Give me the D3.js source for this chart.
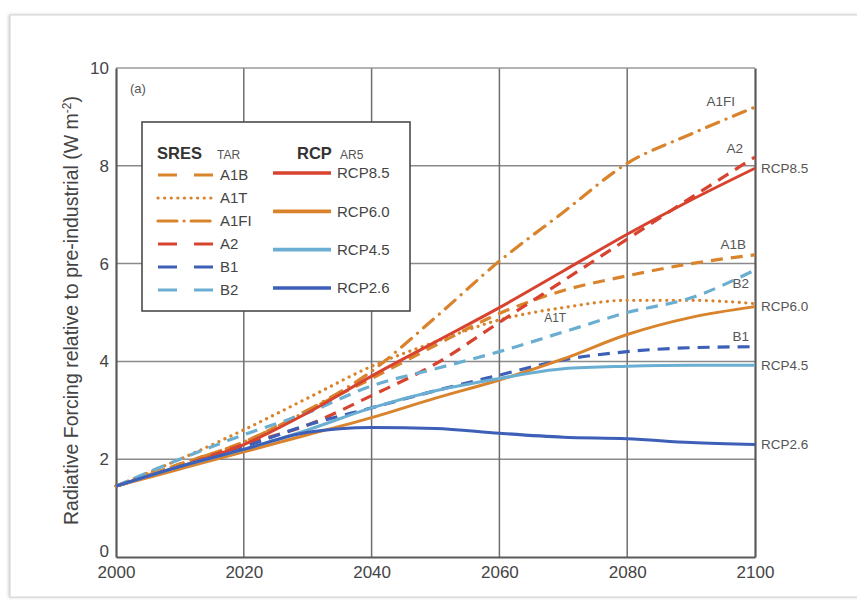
<!DOCTYPE html>
<html>
<head>
<meta charset="utf-8">
<script src="https://cdn.jsdelivr.net/npm/d3@7"></script>
<style>
  body { margin: 0; background: #fff; }
  svg { display: block; font-family: "Liberation Sans", Arial, sans-serif; }
</style>
</head>
<body>
<div id="chart"></div>
<script>
// years sampled every decade
const years = [2000, 2010, 2020, 2030, 2040, 2050, 2060, 2070, 2080, 2090, 2100];

// RCP (AR5), W m-2
const rcp85 = [1.45, 1.85, 2.3, 2.95, 3.7, 4.4, 5.1, 5.85, 6.6, 7.3, 7.95];
const rcp60 = [1.45, 1.8, 2.15, 2.5, 2.85, 3.25, 3.62, 4.05, 4.55, 4.9, 5.12];
const rcp45 = [1.45, 1.85, 2.2, 2.6, 3.05, 3.4, 3.65, 3.85, 3.9, 3.92, 3.92];
const rcp26 = [1.45, 1.85, 2.2, 2.55, 2.65, 2.63, 2.53, 2.45, 2.42, 2.34, 2.3];

// SRES (TAR), W m-2
const a1b = [1.45, 1.9, 2.35, 3.0, 3.65, 4.33, 4.98, 5.45, 5.75, 6.0, 6.18];
const a1t = [1.45, 2.0, 2.6, 3.25, 3.9, 4.4, 4.85, 5.1, 5.25, 5.25, 5.18];
const a1fi = [1.45, 1.9, 2.35, 3.0, 3.8, 4.9, 6.05, 7.05, 8.05, 8.65, 9.2];
const a2 = [1.45, 1.85, 2.3, 2.7, 3.3, 3.95, 4.8, 5.65, 6.5, 7.35, 8.18];
const b1 = [1.45, 1.85, 2.25, 2.7, 3.05, 3.4, 3.72, 4.03, 4.2, 4.28, 4.3];
const b2 = [1.45, 2.0, 2.5, 2.95, 3.5, 3.85, 4.2, 4.6, 5.0, 5.3, 5.87];

const xTicks = [2000, 2020, 2040, 2060, 2080, 2100];
const yTicks = [0, 2, 4, 6, 8, 10];

const RED = "#d8432f", ORANGE = "#d9832c", LBLUE = "#6aaed2", DBLUE = "#3d5fb8";

const sres = [
  { name: "A1B", values: a1b, color: ORANGE, dash: "12,8", legDash: "19,17", cap: "butt" },
  { name: "A1T", values: a1t, color: ORANGE, dash: "0.1,6.5", legDash: "0.1,6.5", cap: "round" },
  { name: "A1FI", values: a1fi, color: ORANGE, dash: "13,8,0.1,8", legDash: "19,7,0.1,7", cap: "round" },
  { name: "A2", values: a2, color: RED, dash: "12,8", legDash: "19,17", cap: "butt" },
  { name: "B1", values: b1, color: DBLUE, dash: "12,8", legDash: "19,17", cap: "butt" },
  { name: "B2", values: b2, color: LBLUE, dash: "12,8", legDash: "19,17", cap: "butt" }
];
const rcp = [
  { name: "RCP8.5", values: rcp85, color: RED },
  { name: "RCP6.0", values: rcp60, color: ORANGE },
  { name: "RCP4.5", values: rcp45, color: LBLUE },
  { name: "RCP2.6", values: rcp26, color: DBLUE }
];

const W = 857, H = 600;
const margin = { top: 68, right: 102, bottom: 43, left: 116 };
const w = W - margin.left - margin.right;
const h = H - margin.top - margin.bottom;

const svg = d3.select("#chart").append("svg").attr("width", W).attr("height", H);

// card frame with soft shadow
const defs = svg.append("defs");
const f = defs.append("filter").attr("id", "sh").attr("x", "-5%").attr("y", "-5%").attr("width", "110%").attr("height", "110%");
f.append("feDropShadow").attr("dx", -1).attr("dy", 0).attr("stdDeviation", 1.5).attr("flood-color", "#999").attr("flood-opacity", 0.5);
svg.append("rect").attr("x", 10).attr("y", 15).attr("width", W + 10).attr("height", 582)
  .attr("fill", "#fff").attr("stroke", "#d4d4d4").attr("stroke-width", 1).attr("filter", "url(#sh)");

const g = svg.append("g").attr("transform", `translate(${margin.left},${margin.top})`);

const x = d3.scaleLinear().domain([2000, 2100]).range([0, w]);
const y = d3.scaleLinear().domain([0, 10]).range([h, 0]);

// grid
g.append("g").selectAll("line").data(yTicks.slice(1, -1)).join("line")
  .attr("x1", 0).attr("x2", w).attr("y1", d => y(d)).attr("y2", d => y(d))
  .attr("stroke", "#8a8a8a").attr("stroke-width", 1.5);
g.append("g").selectAll("line").data(xTicks.slice(1, -1)).join("line")
  .attr("y1", 0).attr("y2", h).attr("x1", d => x(d)).attr("x2", d => x(d))
  .attr("stroke", "#6e6e6e").attr("stroke-width", 1.5);
g.append("line").attr("x1", 0).attr("x2", w).attr("y1", 0).attr("y2", 0)
  .attr("stroke", "#9a9a9a").attr("stroke-width", 1.5);

// axes
const xAxis = g.append("g").attr("transform", `translate(0,${h})`)
  .call(d3.axisBottom(x).tickValues(xTicks).tickFormat(d3.format("d")).tickSize(0).tickPadding(9));
const yAxis = g.append("g")
  .call(d3.axisLeft(y).tickValues(yTicks).tickSize(0).tickPadding(7));
const yAxisR = g.append("g").attr("transform", `translate(${w},0)`)
  .call(d3.axisRight(y).tickValues([]).tickSize(0));
[xAxis, yAxis, yAxisR].forEach(a => {
  a.select(".domain").attr("stroke", "#5a5a5a").attr("stroke-width", 2.2);
  a.selectAll("text").attr("fill", "#444").style("font-size", "17px");
});
// lift the "0" so it clears the "2000" below it
yAxis.selectAll(".tick").filter(d => d === 0).select("text").attr("dy", "-0.05em");

g.append("text").attr("x", 14).attr("y", 25).attr("fill", "#555")
  .style("font-size", "13px").text("(a)");

// series
const line = d3.line().x((d, i) => x(years[i])).y(d => y(d)).curve(d3.curveMonotoneX);

g.append("g").selectAll("path").data(sres).join("path")
  .attr("d", d => line(d.values)).attr("fill", "none")
  .attr("stroke", d => d.color).attr("stroke-width", 3.2)
  .attr("stroke-dasharray", d => d.dash).attr("stroke-linecap", d => d.cap);

g.append("g").selectAll("path").data(rcp).join("path")
  .attr("d", d => line(d.values)).attr("fill", "none")
  .attr("stroke", d => d.color).attr("stroke-width", 3);

// end labels
const last = years.length - 1;
const labelStyle = s => s.attr("fill", "#555").style("font-size", "13.5px");
g.append("g").selectAll("text").data(rcp).join("text")
  .attr("x", w + 6).attr("y", d => y(d.values[last])).attr("dy", "0.35em")
  .text(d => d.name).call(labelStyle);

const sresLabels = [
  { name: "A1FI", val: a1fi[last], dx: -20, dy: -6 },
  { name: "A2", val: a2[last], dx: -12, dy: -9 },
  { name: "A1B", val: a1b[last], dx: -9, dy: -11 },
  { name: "B2", val: b2[last], dx: -6, dy: 13 },
  { name: "B1", val: b1[last], dx: -6, dy: -10 }
];
g.append("g").selectAll("text").data(sresLabels).join("text")
  .attr("x", d => w + d.dx).attr("y", d => y(d.val) + d.dy).attr("dy", "0.35em")
  .attr("text-anchor", "end").text(d => d.name).call(labelStyle);
g.append("text").attr("x", x(2067)).attr("y", y(4.89)).attr("dy", "0.35em")
  .text("A1T").attr("fill", "#555").style("font-size", "12px");

// legend
const leg = svg.append("g").attr("transform", "translate(142,122)");
leg.append("rect").attr("width", 268).attr("height", 189)
  .attr("fill", "#fff").attr("stroke", "#4a4a4a").attr("stroke-width", 1.6);
leg.append("text").attr("x", 15).attr("y", 37).attr("fill", "#333")
  .style("font-size", "16.5px").style("font-weight", "bold").text("SRES");
leg.append("text").attr("x", 75).attr("y", 37).attr("fill", "#555")
  .style("font-size", "12px").text("TAR");
leg.append("text").attr("x", 155).attr("y", 37).attr("fill", "#333")
  .style("font-size", "16.5px").style("font-weight", "bold").text("RCP");
leg.append("text").attr("x", 198).attr("y", 37).attr("fill", "#555")
  .style("font-size", "12px").text("AR5");

const sresRow = d3.scaleLinear().domain([0, 5]).range([53, 168]);
const se = leg.selectAll("g.s").data(sres).join("g").attr("class", "s")
  .attr("transform", (d, i) => `translate(0,${sresRow(i)})`);
se.append("line").attr("x1", 16).attr("x2", 73)
  .attr("stroke", d => d.color).attr("stroke-width", 3.2)
  .attr("stroke-dasharray", d => d.legDash).attr("stroke-linecap", d => d.cap);
se.append("text").attr("x", 78).attr("dy", "0.35em").attr("fill", "#444")
  .style("font-size", "15px").text(d => d.name);

const rcpRow = d3.scaleLinear().domain([0, 3]).range([51, 166]);
const re = leg.selectAll("g.r").data(rcp).join("g").attr("class", "r")
  .attr("transform", (d, i) => `translate(0,${rcpRow(i)})`);
re.append("line").attr("x1", 131).attr("x2", 189)
  .attr("stroke", d => d.color).attr("stroke-width", 3.6);
re.append("text").attr("x", 195).attr("dy", "0.35em").attr("fill", "#444")
  .style("font-size", "15px").text(d => d.name);

// y title
svg.append("text")
  .attr("transform", `translate(78,${margin.top + h / 2 - 2}) rotate(-90)`)
  .attr("text-anchor", "middle").attr("fill", "#444").style("font-size", "19.5px")
  .text("Radiative Forcing relative to pre-industrial (W m")
  .append("tspan").attr("baseline-shift", "super").style("font-size", "12px").text("-2")
  .select(function () { return this.parentNode; })
  .append("tspan").text(")");
</script>
</body>
</html>
